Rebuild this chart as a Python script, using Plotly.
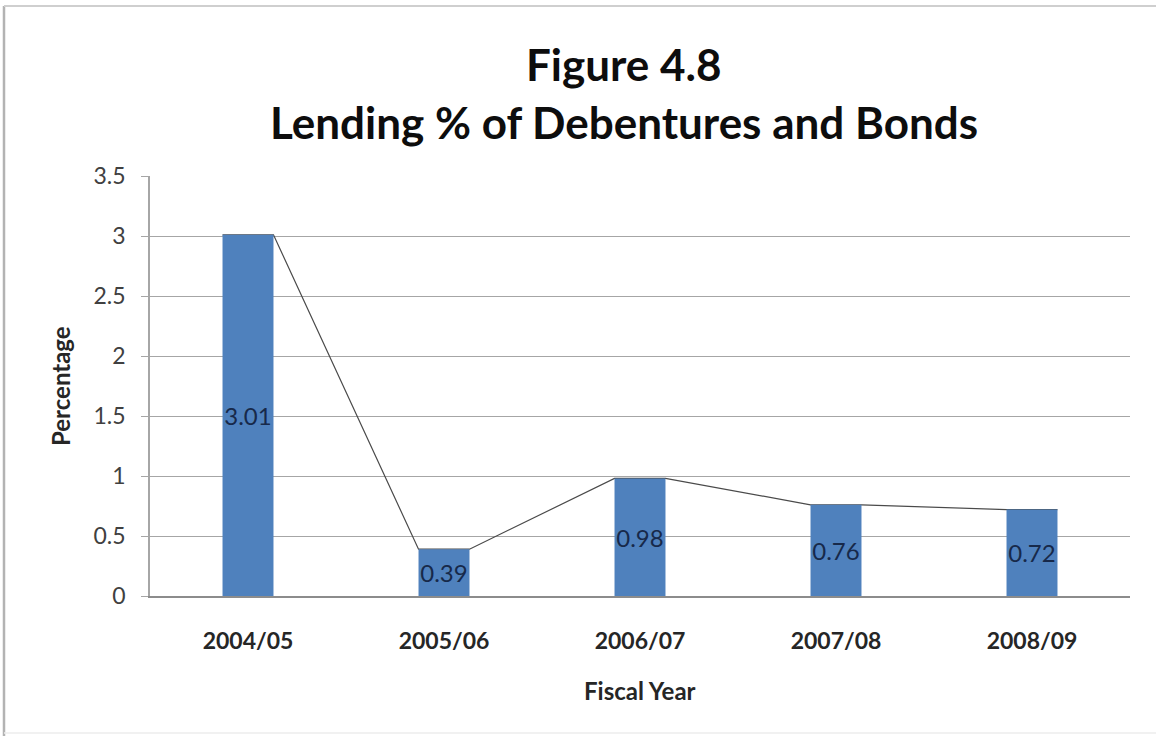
import plotly.graph_objects as go

# Fiscal years and lending percentages
years = ["2004/05", "2005/06", "2006/07", "2007/08", "2008/09"]
lending_pct = [3.01, 0.39, 0.98, 0.76, 0.72]
y_ticks = [0, 0.5, 1, 1.5, 2, 2.5, 3, 3.5]
y_tick_text = ["0", "0.5", "1", "1.5", "2", "2.5", "3", "3.5"]
title_lines = ["Figure 4.8", "Lending % of Debentures and Bonds"]

BAR_WIDTH = 0.26
FONT = "Lato"
positions = list(range(len(years)))

# Plot area in pixels (used to place paper-referenced decorations)
PL, PR, PT, PB = 150, 1130, 176, 596
PW, PH = PR - PL, PB - PT


def px_x(x):
    return (x - PL) / PW


def px_y(y):
    return (PB - y) / PH


# Connector line runs from the top-right corner of one bar to the top-left of the next
line_x, line_y = [], []
for i, v in zip(positions, lending_pct):
    line_x += [i - BAR_WIDTH / 2, i + BAR_WIDTH / 2]
    line_y += [v, v]

fig = go.Figure()

# Line on the base axes so the bars (on the overlay axes) sit above it
fig.add_trace(go.Scatter(
    x=line_x, y=line_y, mode="lines",
    line=dict(color="#4a4a4a", width=1.2),
    xaxis="x", yaxis="y", hoverinfo="skip", showlegend=False,
))

fig.add_trace(go.Bar(
    x=positions, y=lending_pct, width=BAR_WIDTH,
    marker=dict(color="#4F81BD", line=dict(width=0)),
    text=[f"{v:.2f}" for v in lending_pct],
    textposition="inside", insidetextanchor="middle",
    textangle=0, constraintext="none",
    textfont=dict(family=FONT, size=24, color="#17294a"),
    xaxis="x2", yaxis="y2", showlegend=False,
))

x_range = [-0.5, len(years) - 0.5]
y_range = [0, 3.5]

annotations = [
    dict(text=f"<b>{title_lines[0]}</b>", x=px_x(624), y=px_y(64),
         font=dict(family=FONT, size=44, color="#0d0d0d")),
    dict(text=f"<b>{title_lines[1]}</b>", x=px_x(624), y=px_y(122),
         font=dict(family=FONT, size=44, color="#0d0d0d")),
    dict(text="<b>Percentage</b>", textangle=-90, x=px_x(60), y=0.5,
         font=dict(family=FONT, size=24, color="#262626")),
    dict(text="<b>Fiscal Year</b>", x=0.5, y=px_y(690),
         font=dict(family=FONT, size=24, color="#262626")),
]
for a in annotations:
    a.update(xref="paper", yref="paper", xanchor="center",
             yanchor="middle", showarrow=False)

fig.update_layout(
    width=1156, height=736,
    margin=dict(l=PL, r=1156 - PR, t=PT, b=736 - PB),
    paper_bgcolor="white", plot_bgcolor="white",
    font=dict(family=FONT, color="#404040"),
    xaxis=dict(
        range=x_range, tickvals=positions,
        ticktext=[f"<b>{y}</b>" for y in years],
        tickfont=dict(family=FONT, size=23, color="#262626"),
        showgrid=False, zeroline=False, ticks="",
        showline=True, linecolor="#8c8c8c", linewidth=1.5,
        ticklabelstandoff=24,
    ),
    yaxis=dict(
        range=y_range, tickvals=y_ticks, ticktext=y_tick_text,
        tickfont=dict(family=FONT, size=23, color="#404040"),
        showgrid=True, gridcolor="#a6a6a6", gridwidth=1.3,
        zeroline=False, ticks="outside", ticklen=7, tickcolor="#a6a6a6",
        showline=True, linecolor="#a6a6a6", linewidth=1.5,
        ticklabelstandoff=11,
    ),
    xaxis2=dict(range=x_range, overlaying="x", visible=False),
    yaxis2=dict(range=y_range, overlaying="y", visible=False),
    annotations=annotations,
    shapes=[
        # chart frame: left and top edges, faint bottom edge
        dict(type="line", xref="paper", yref="paper",
             x0=px_x(4), x1=px_x(4), y0=px_y(736), y1=px_y(6),
             line=dict(color="#b3b3b3", width=2.5)),
        dict(type="line", xref="paper", yref="paper",
             x0=px_x(4), x1=px_x(1156), y0=px_y(6), y1=px_y(6),
             line=dict(color="#cfcfcf", width=2)),
        dict(type="line", xref="paper", yref="paper",
             x0=px_x(4), x1=px_x(1156), y0=px_y(733), y1=px_y(733),
             line=dict(color="#ececec", width=1.5)),
    ],
)

fig.write_html("out.html")
